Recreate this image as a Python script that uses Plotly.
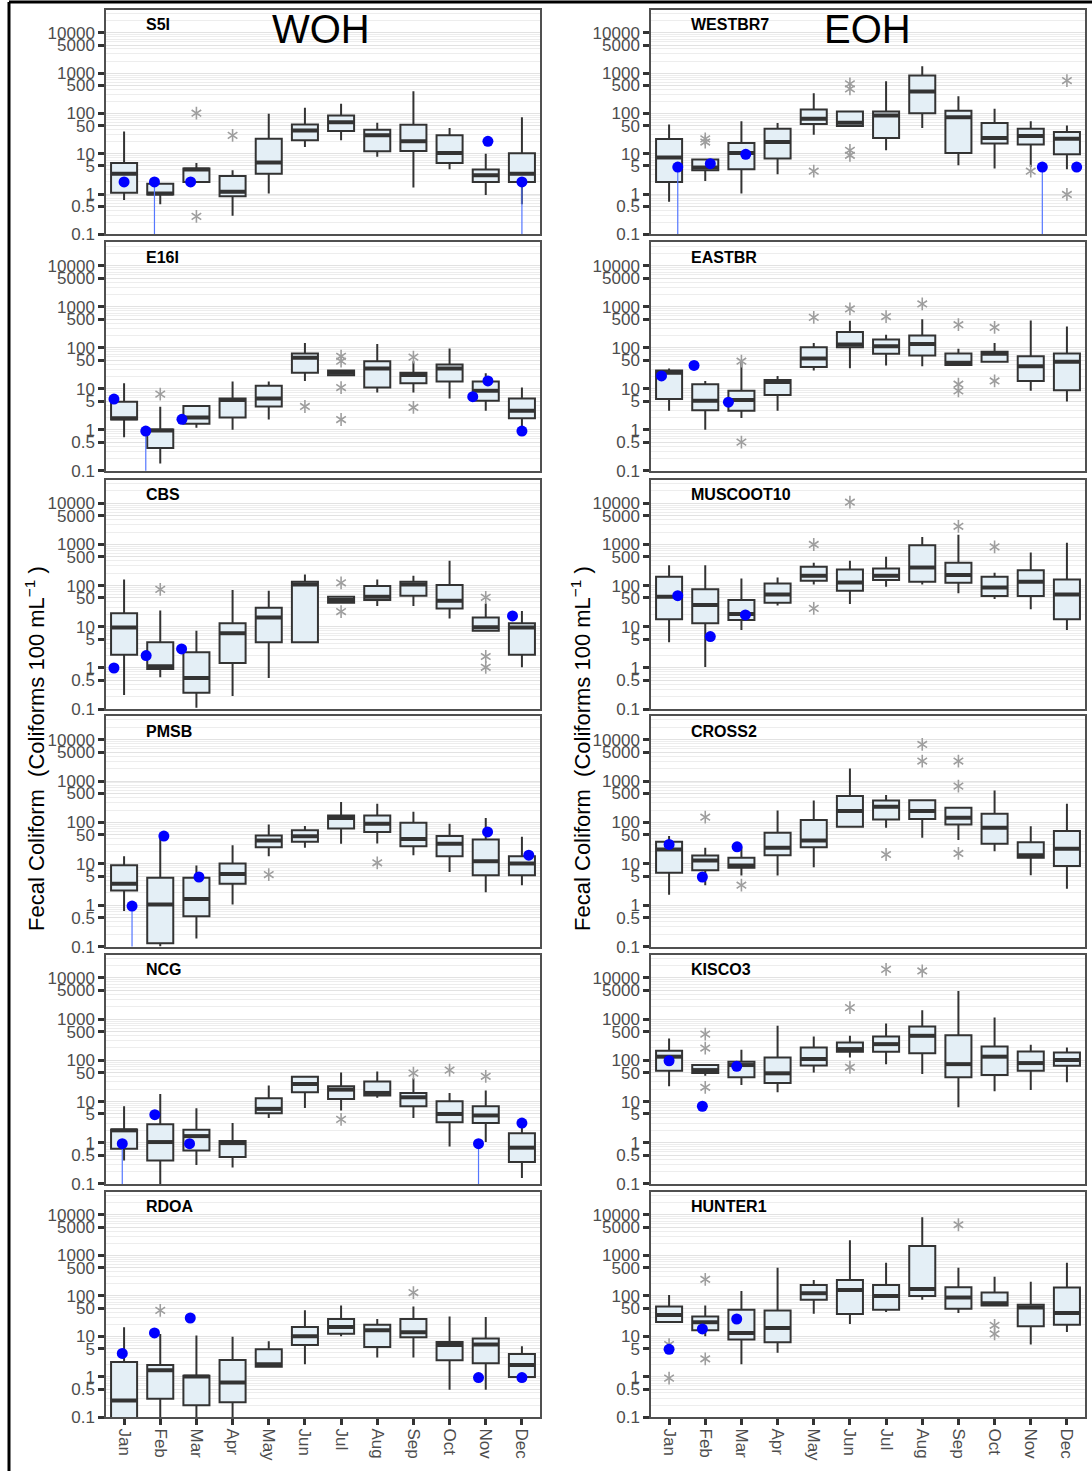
import plotly.graph_objects as go

W, H = 1092, 1481

months = ["Jan", "Feb", "Mar", "Apr", "May", "Jun", "Jul", "Aug", "Sep", "Oct", "Nov", "Dec"]
ytick_vals = [0.1, 0.5, 1, 5, 10, 50, 100, 500, 1000, 5000, 10000]
ytick_text = ["0.1", "0.5", "1", "5", "10", "50", "100", "500", "1000", "5000", "10000"]

# ---- WOH stations ----
s5i_low = [0.71, 0.56, 2.0, 0.29, 1.04, 14.8, 21.6, 8.4, 1.46, 4.15, 0.95, 0.56]
s5i_q1 = [1.08, 0.98, 2.0, 0.89, 3.2, 21.6, 36.7, 11.5, 11.8, 5.9, 2.0, 2.0]
s5i_med = [3.2, 1.04, 4.1, 1.14, 6.1, 38, 61, 28.7, 20.4, 10.5, 2.95, 3.2]
s5i_q3 = [5.9, 1.8, 4.3, 2.8, 23.8, 53.7, 89.6, 39.6, 52.6, 28.7, 4.07, 10.3]
s5i_high = [36, 1.8, 5.9, 3.9, 98, 138, 174, 59, 358, 43.6, 10, 81]
s5i_out = [(3, 102), (3, 0.28), (4, 28.7)]
s5i_dots = [(1.0, 2.0, False), (1.84, 2.0, True), (2.84, 2.0, False), (11.06, 20.4, False), (12.0, 2.0, True)]

e16i_low = [0.66, 0.15, 1.12, 1.0, 1.78, 15.5, 21.3, 8.1, 8.1, 5.8, 2.9, 1.16]
e16i_q1 = [1.78, 0.36, 1.4, 2.0, 3.7, 24.7, 21.3, 10.7, 13.6, 15, 5.1, 1.9]
e16i_med = [1.9, 0.96, 2.0, 5.3, 5.8, 57, 24.7, 31, 21.7, 31, 8.9, 2.9]
e16i_q3 = [4.8, 1.02, 3.8, 5.8, 11.8, 72, 28, 47, 24.7, 39, 15, 5.8]
e16i_high = [13.6, 3.66, 3.8, 15, 15, 131, 28, 124, 47, 95.6, 23.8, 10.7]
e16i_out = [(2, 7.4), (6, 3.7), (7, 62), (7, 47), (7, 10.7), (7, 1.78), (9, 59), (9, 3.5)]
e16i_dots = [(0.72, 5.6, False), (1.6, 0.93, True), (2.6, 1.8, False), (10.64, 6.4, False), (11.06, 15.5, False), (12.0, 0.93, False)]

cbs_low = [0.22, 0.6, 0.108, 0.21, 0.57, 4.2, 38.5, 32, 32, 16, 8.0, 1.04]
cbs_q1 = [2.1, 0.95, 0.25, 1.32, 4.2, 4.2, 38.5, 44.8, 57, 28, 8.0, 2.1]
cbs_med = [9.6, 1.1, 0.57, 7.0, 16.7, 107, 44.8, 54, 107, 43, 9.8, 9.6]
cbs_q3 = [21.3, 4.2, 2.4, 12.2, 29, 124, 54, 97.5, 124, 103, 16.7, 12.2]
cbs_high = [141, 24.7, 8.0, 78, 75, 186, 54, 141, 173, 400, 37, 24.3]
cbs_out = [(2, 81), (7, 117), (7, 23.4), (11, 52), (11, 1.9), (11, 1.04)]
cbs_dots = [(0.72, 1.0, False), (1.61, 2.0, False), (2.59, 2.9, False), (11.74, 18.4, False)]

pmsb_low = [0.72, 0.1, 0.156, 1.04, 15.3, 24.4, 30.5, 31, 16.2, 6.3, 2.06, 3.05]
pmsb_q1 = [2.26, 0.12, 0.54, 3.3, 25.3, 34, 71.6, 59, 26.7, 15.3, 5.3, 5.3]
pmsb_med = [3.3, 1.04, 1.42, 5.7, 36.7, 46.7, 129, 93, 40, 30.5, 11.6, 10.2]
pmsb_q3 = [9.3, 4.6, 4.6, 10.2, 48.5, 65, 148, 148, 98, 47, 38.8, 15.3]
pmsb_high = [15.3, 47, 9.1, 28.3, 89, 81.6, 310, 282, 181, 93, 129, 45]
pmsb_out = [(5, 5.5), (8, 10.6)]
pmsb_dots = [(1.22, 0.95, True), (2.1, 47, False), (3.07, 4.8, False), (11.05, 59, False), (12.19, 16.2, False)]

ncg_low = [0.37, 0.1, 0.29, 0.25, 4.0, 7.0, 6.05, 12.3, 4.0, 0.815, 1.04, 0.14]
ncg_q1 = [0.72, 0.37, 0.65, 0.45, 5.2, 16.8, 11.6, 14, 7.7, 3.16, 3.0, 0.34]
ncg_med = [2.0, 1.04, 1.45, 0.98, 6.65, 26.7, 19.5, 16.2, 12.7, 5.0, 4.6, 0.76]
ncg_q3 = [2.1, 2.8, 2.06, 1.1, 12.0, 40, 23.5, 30.5, 16.2, 10.2, 7.7, 1.7]
ncg_high = [7.7, 15.3, 6.9, 3.0, 24.4, 40, 51, 54, 36.7, 16.2, 18.5, 3.0]
ncg_out = [(7, 3.7), (9, 49), (10, 58), (11, 41)]
ncg_dots = [(0.95, 0.95, True), (1.85, 4.8, False), (2.81, 0.95, False), (10.8, 0.95, True), (12.0, 3.0, False)]

rdoa_low = [0.05, 0.1, 0.1, 0.1, 1.79, 2.04, 10.1, 3.0, 3.0, 0.48, 0.48, 1.0]
rdoa_q1 = [0.05, 0.29, 0.2, 0.235, 1.79, 6.1, 11.7, 5.5, 9.6, 2.56, 2.16, 1.0]
rdoa_med = [0.26, 1.46, 1.02, 0.73, 2.04, 10.1, 17.1, 14.2, 12.7, 6.1, 6.3, 1.97]
rdoa_q3 = [2.33, 1.97, 1.06, 2.6, 4.8, 17.1, 26.9, 19.5, 26.9, 7.3, 8.9, 3.7]
rdoa_high = [16.8, 11.5, 10.5, 9.75, 7.6, 44, 58, 26.9, 55, 31, 30, 5.75]
rdoa_out = [(2, 44), (9, 121)]
rdoa_dots = [(0.95, 3.8, False), (1.84, 12.2, False), (2.83, 28.5, False), (10.8, 0.96, False), (12.0, 0.96, False)]

# ---- EOH stations ----
westbr7_low = [0.65, 2.1, 1.04, 3.1, 29.8, 48.8, 12.2, 43.6, 5.2, 4.3, 4.7, 4.15]
westbr7_q1 = [2.0, 3.9, 4.15, 7.6, 54.6, 48.8, 24.6, 102, 10.5, 17.9, 16.9, 9.7]
westbr7_med = [8.05, 4.6, 10.5, 19.6, 74, 59, 89.6, 351, 81, 24.6, 27.7, 23.8]
westbr7_q3 = [23.3, 7.2, 18.6, 42, 126, 112, 112, 873, 117, 57.8, 42, 34.7]
westbr7_high = [53.7, 7.2, 64.6, 57.8, 319, 112, 630, 1480, 269, 131, 64.6, 50.7]
westbr7_out = [(2, 23.5), (2, 19.6), (5, 3.7), (6, 543), (6, 408), (6, 12.2), (6, 9.2), (11, 3.7), (12, 656), (12, 0.98)]
westbr7_dots = [(1.24, 4.7, True), (2.14, 5.7, False), (3.12, 9.7, False), (11.32, 4.7, True), (12.27, 4.7, False)]

eastbr_low = [2.9, 1.0, 1.95, 2.9, 28, 31.5, 37, 35.6, 38, 45.5, 8.9, 4.9]
eastbr_q1 = [5.6, 3.0, 2.9, 7.0, 33.8, 103, 71, 65, 38, 45.5, 15.5, 9.2]
eastbr_med = [24.7, 5.1, 5.3, 14.7, 55, 120, 109, 124, 43, 71, 35.6, 45.5]
eastbr_q3 = [28, 12.9, 8.9, 16.4, 103, 242, 158, 200, 72, 79.5, 62, 72]
eastbr_high = [31, 15.5, 45.5, 20.5, 131, 453, 208, 497, 94, 131, 463, 331]
eastbr_out = [(3, 47), (3, 0.5), (5, 550), (6, 885), (7, 577), (8, 1170), (9, 365), (9, 12.9), (9, 8.9), (10, 313), (10, 15.5)]
eastbr_dots = [(0.79, 20.5, False), (1.69, 37, False), (2.64, 4.7, False)]

muscoot10_low = [4.2, 1.06, 8.4, 33, 107, 35.8, 94, 107, 65, 47, 26.6, 8.4]
muscoot10_q1 = [15.3, 12.2, 14.7, 38.5, 131, 75, 136, 124, 117, 56, 56, 15.3]
muscoot10_med = [54, 34, 20.5, 61, 173, 119, 173, 275, 180, 90, 124, 61]
muscoot10_q3 = [164, 81, 44.8, 113, 286, 246, 260, 953, 358, 164, 237, 141]
muscoot10_high = [312, 312, 149, 158, 358, 400, 500, 1510, 1725, 204, 634, 1100]
muscoot10_out = [(5, 996), (5, 28), (6, 10600), (9, 2750), (10, 870)]
muscoot10_dots = [(1.24, 57, False), (2.14, 5.8, False), (3.11, 19.4, False)]

cross2_low = [1.8, 3.05, 5.2, 5.2, 8.3, 78.5, 74, 42.6, 37.4, 20.2, 5.3, 2.5]
cross2_q1 = [6.05, 7.0, 8.0, 16.2, 25.3, 78.5, 118, 122, 89.6, 30.5, 14, 8.8]
cross2_med = [22.2, 12, 9.1, 24.4, 36.7, 188, 239, 188, 130, 74, 16.2, 23]
cross2_q3 = [34, 15.9, 14, 56, 114, 434, 340, 346, 226, 162, 33, 61.8]
cross2_high = [47, 24.4, 25.8, 195, 340, 2020, 458, 346, 226, 593, 81, 282]
cross2_out = [(2, 134), (3, 3.05), (7, 16.8), (8, 7700), (8, 3050), (9, 3050), (9, 755), (9, 17.8)]
cross2_dots = [(1.0, 29.4, False), (1.92, 4.8, False), (2.88, 25.8, False)]

kisco3_low = [23.5, 42.6, 25.3, 16.8, 51, 118, 81, 46.7, 7.3, 17.8, 19.2, 29.4]
kisco3_q1 = [56, 49.4, 38.8, 28.3, 75, 162, 162, 148, 38.8, 44, 56, 74]
kisco3_med = [123, 58, 77, 48.5, 108, 188, 248, 395, 81, 123, 86, 102]
kisco3_q3 = [171, 77, 93, 118, 206, 272, 381, 664, 410, 218, 165, 156]
kisco3_high = [340, 77, 181, 690, 381, 395, 790, 1650, 4840, 1094, 239, 206]
kisco3_out = [(2, 434), (2, 199), (2, 22.2), (6, 1910), (6, 68), (7, 16200), (8, 14800)]
kisco3_dots = [(1.0, 98, False), (1.92, 7.7, False), (2.87, 71.6, False)]

hunter1_low = [22.7, 10.1, 2.04, 3.95, 36.4, 20.3, 40, 80, 37.7, 58, 6.3, 12.9]
hunter1_q1 = [22.7, 14.2, 8.4, 7.2, 80, 35.7, 45.5, 100, 48.2, 58, 17.8, 19.5]
hunter1_med = [34, 22.3, 12.2, 16.2, 117, 141, 100, 149, 91.5, 66, 52, 37.7]
hunter1_q3 = [55, 31, 45.6, 43.9, 186, 248, 186, 1720, 164, 121, 60.4, 161]
hunter1_high = [106, 58, 133, 497, 248, 2370, 660, 8830, 497, 299, 225, 660]
hunter1_out = [(1, 0.93), (1, 6.3), (2, 257), (2, 2.8), (9, 5730), (10, 18.8), (10, 11.5)]
hunter1_dots = [(1.0, 4.8, False), (1.92, 15.3, False), (2.87, 26.9, False)]

# (name, column, row, stats...)
panels = [
    ("S5I", 0, 0, s5i_low, s5i_q1, s5i_med, s5i_q3, s5i_high, s5i_out, s5i_dots),
    ("E16I", 0, 1, e16i_low, e16i_q1, e16i_med, e16i_q3, e16i_high, e16i_out, e16i_dots),
    ("CBS", 0, 2, cbs_low, cbs_q1, cbs_med, cbs_q3, cbs_high, cbs_out, cbs_dots),
    ("PMSB", 0, 3, pmsb_low, pmsb_q1, pmsb_med, pmsb_q3, pmsb_high, pmsb_out, pmsb_dots),
    ("NCG", 0, 4, ncg_low, ncg_q1, ncg_med, ncg_q3, ncg_high, ncg_out, ncg_dots),
    ("RDOA", 0, 5, rdoa_low, rdoa_q1, rdoa_med, rdoa_q3, rdoa_high, rdoa_out, rdoa_dots),
    ("WESTBR7", 1, 0, westbr7_low, westbr7_q1, westbr7_med, westbr7_q3, westbr7_high, westbr7_out, westbr7_dots),
    ("EASTBR", 1, 1, eastbr_low, eastbr_q1, eastbr_med, eastbr_q3, eastbr_high, eastbr_out, eastbr_dots),
    ("MUSCOOT10", 1, 2, muscoot10_low, muscoot10_q1, muscoot10_med, muscoot10_q3, muscoot10_high, muscoot10_out, muscoot10_dots),
    ("CROSS2", 1, 3, cross2_low, cross2_q1, cross2_med, cross2_q3, cross2_high, cross2_out, cross2_dots),
    ("KISCO3", 1, 4, kisco3_low, kisco3_q1, kisco3_med, kisco3_q3, kisco3_high, kisco3_out, kisco3_dots),
    ("HUNTER1", 1, 5, hunter1_low, hunter1_q1, hunter1_med, hunter1_q3, hunter1_high, hunter1_out, hunter1_dots),
]

# panel geometry in pixels
col_x = [(106, 540), (651, 1085)]
row_y = [(10, 236), (244, 474), (483, 714), (721, 953), (961, 1192), (1200, 1427)]

FONT = "Liberation Sans, Arial, Helvetica, sans-serif"
BOX_FILL = "#e4eff6"
DARK = "#333333"
STAR = "#9e9e9e"
minor_vals = [m * 10 ** e for e in range(-1, 5) for m in range(2, 10)]

pos = list(range(1, 13))
fig = go.Figure()
layout = {}
annotations = []

for k, (name, col, row, low, q1, med, q3, high, outl, dots) in enumerate(panels, start=1):
    xa = "x" if k == 1 else f"x{k}"
    ya = "y" if k == 1 else f"y{k}"
    x0, x1 = col_x[col]
    yt, yb = row_y[row]
    bottom = row == 5

    fig.add_trace(go.Box(
        x=pos, q1=q1, median=med, q3=q3, lowerfence=low, upperfence=high,
        width=0.72, whiskerwidth=0, boxpoints=False,
        fillcolor=BOX_FILL, line=dict(color=DARK, width=2),
        xaxis=xa, yaxis=ya, hoverinfo="skip", showlegend=False,
    ))

    # heavier median bars
    mx, my = [], []
    for p, m in zip(pos, med):
        mx += [p - 0.36, p + 0.36, None]
        my += [m, m, None]
    fig.add_trace(go.Scatter(x=mx, y=my, mode="lines", line=dict(color=DARK, width=4),
                             xaxis=xa, yaxis=ya, hoverinfo="skip", showlegend=False))

    # outliers as six-armed asterisks (two overlaid Y glyphs)
    if outl:
        for sym in ("y-up-open", "y-down-open"):
            fig.add_trace(go.Scatter(
                x=[o[0] for o in outl], y=[o[1] for o in outl], mode="markers",
                marker=dict(symbol=sym, size=8, color=STAR, line=dict(color=STAR, width=1.6)),
                xaxis=xa, yaxis=ya, hoverinfo="skip", showlegend=False))

    lx, ly = [], []
    for dx, dv, drop in dots:
        if drop:
            lx += [dx, dx, None]
            ly += [dv, 0.05, None]
    if lx:
        fig.add_trace(go.Scatter(x=lx, y=ly, mode="lines", line=dict(color="#5577ff", width=1.2),
                                 xaxis=xa, yaxis=ya, hoverinfo="skip", showlegend=False))
    fig.add_trace(go.Scatter(
        x=[d[0] for d in dots], y=[d[1] for d in dots], mode="markers",
        marker=dict(color="#0000ff", size=11),
        xaxis=xa, yaxis=ya, hoverinfo="skip", showlegend=False))

    key_x = "xaxis" if k == 1 else f"xaxis{k}"
    key_y = "yaxis" if k == 1 else f"yaxis{k}"
    layout[key_x] = dict(
        domain=[x0 / W, x1 / W], anchor=ya, range=[0.5, 12.5],
        tickmode="array", tickvals=pos, ticktext=months,
        showticklabels=bottom, ticks="outside" if bottom else "",
        ticklen=6, tickwidth=3, tickcolor=DARK, tickangle=90,
        tickfont=dict(family=FONT, size=17, color="#4d4d4d"),
        showgrid=False, zeroline=False,
        showline=True, mirror=True, linecolor="#505050", linewidth=1.5,
    )
    layout[key_y] = dict(
        domain=[1 - yb / H, 1 - yt / H], anchor=xa, type="log", range=[-1, 4.57],
        tickmode="array", tickvals=ytick_vals, ticktext=ytick_text,
        ticks="outside", ticklen=6, tickwidth=3, tickcolor=DARK,
        tickfont=dict(family=FONT, size=17, color="#4d4d4d"),
        showgrid=True, gridcolor="#e2e2e2", gridwidth=1.3,
        minor=dict(tickmode="array", tickvals=minor_vals, showgrid=True,
                   gridcolor="#ededed", gridwidth=0.8, ticks=""),
        zeroline=False, showline=True, mirror=True, linecolor="#505050", linewidth=1.5,
    )
    annotations.append(dict(
        text=f"<b>{name}</b>", xref="paper", yref="paper",
        x=(x0 + 38) / W, y=1 - (yt + 15) / H, xanchor="left", yanchor="middle",
        showarrow=False, font=dict(family=FONT, size=16, color="black")))

# group headings
annotations.append(dict(text="WOH", xref="paper", yref="paper", x=321 / W, y=1 - 29 / H,
                        xanchor="center", yanchor="middle",
                        showarrow=False, font=dict(family=FONT, size=40, color="black")))
annotations.append(dict(text="EOH", xref="paper", yref="paper", x=867 / W, y=1 - 29 / H,
                        xanchor="center", yanchor="middle",
                        showarrow=False, font=dict(family=FONT, size=40, color="black")))

# y titles
ytitle = "Fecal Coliform  (Coliforms 100 mL<sup>−1</sup> )"
for xc in (35, 581):
    annotations.append(dict(text=ytitle, xref="paper", yref="paper", x=xc / W, y=1 - 754 / H,
                            xanchor="center", yanchor="middle",
                            textangle=-90, showarrow=False,
                            font=dict(family=FONT, size=22, color="black")))

# outer frame
shapes = [
    dict(type="line", xref="paper", yref="paper", x0=9 / W, x1=1, y0=1 - 2 / H, y1=1 - 2 / H,
         line=dict(color="black", width=3)),
    dict(type="line", xref="paper", yref="paper", x0=9 / W, x1=9 / W, y0=0, y1=1 - 2 / H,
         line=dict(color="black", width=3)),
]

fig.update_layout(
    width=W, height=H, autosize=False,
    margin=dict(l=0, r=0, t=0, b=0),
    paper_bgcolor="white", plot_bgcolor="white",
    showlegend=False, annotations=annotations, shapes=shapes,
    **layout,
)

fig.write_html("out.html")
